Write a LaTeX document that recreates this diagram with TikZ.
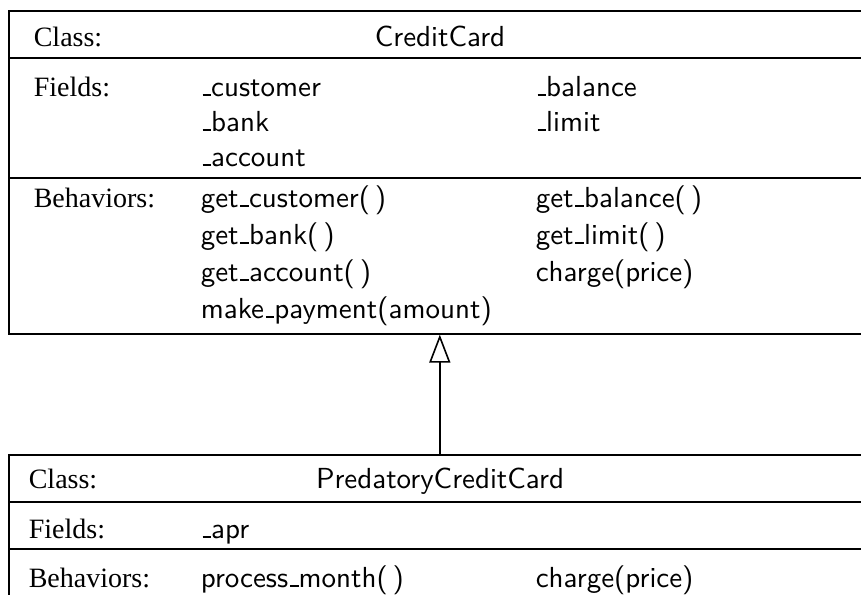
\documentclass[tikz,border=0pt]{standalone}
\usepackage{fontspec}
\usepackage{tikz}
\usetikzlibrary{arrows.meta, positioning}
\newfontfamily\tagfont{Liberation Serif}
\newfontfamily\memberfont{lmsans10-regular.otf}
\newcommand\cardbar{\leavevmode\kern.06em\vbox{\hrule width.3em height.07em}}

\begin{document}
\begin{tikzpicture}[x=1pt, y=-1pt, line width=1.6pt,
    box/.style={draw, anchor=north west, minimum width=862pt, inner sep=0pt},
    tag/.style={anchor=base west, inner sep=0pt, font=\fontsize{28}{30}\tagfont},
    member/.style={anchor=base west, inner sep=0pt, font=\fontsize{29}{32}\memberfont},
    classname/.style={anchor=base, inner sep=0pt, font=\fontsize{29}{32}\memberfont}]
    \useasboundingbox (0,0) rectangle (861,594);

    % CreditCard
    \node[box, minimum height=323pt] (ccBox) at (8,10) {};
    \draw (8,58) -- (870,58);
    \draw (8,178) -- (870,178);
    \node[tag] (ccClass) at (33,47) {Class:};
    \node[classname] (ccName) at (440,47) {CreditCard};
    \node[tag] (ccFields) at (33,96) {Fields:};
    \node[member] (ccCustomer) at (200,96) {\cardbar customer};
    \node[member] (ccBank) at (200,131) {\cardbar bank};
    \node[member] (ccAccount) at (200,166) {\cardbar account};
    \node[member] (ccBalance) at (535,96) {\cardbar balance};
    \node[member] (ccLimit) at (535,131) {\cardbar limit};
    \node[tag] (ccBehaviors) at (33,207) {Behaviors:};
    \node[member] (ccGetCustomer) at (200,207) {get\cardbar customer(\,)};
    \node[member] (ccGetBank) at (200,244) {get\cardbar bank(\,)};
    \node[member] (ccGetAccount) at (200,281) {get\cardbar account(\,)};
    \node[member] (ccPayment) at (200,318) {make\cardbar payment(amount)};
    \node[member] (ccGetBalance) at (535,207) {get\cardbar balance(\,)};
    \node[member] (ccGetLimit) at (535,244) {get\cardbar limit(\,)};
    \node[member] (ccCharge) at (535,281) {charge(price)};

    % PredatoryCreditCard
    \node[box, minimum height=170pt] (pcBox) at (8,454) {};
    \draw (8,502) -- (870,502);
    \draw (8,549) -- (870,549);
    \node[tag] (pcClass) at (28,488) {Class:};
    \node[classname] (pcName) at (440,488) {PredatoryCreditCard};
    \node[tag] (pcFields) at (28,538) {Fields:};
    \node[member] (pcApr) at (200,538) {\cardbar apr};
    \node[tag] (pcBehaviors) at (28,587) {Behaviors:};
    \node[member] (pcMonth) at (200,587) {process\cardbar month(\,)};
    \node[member] (pcCharge) at (535,587) {charge(price)};

    % inheritance
    \draw[-{Triangle[open, length=28pt, width=21pt]}] (pcBox.north) -- (ccBox.south);
\end{tikzpicture}
\end{document}
